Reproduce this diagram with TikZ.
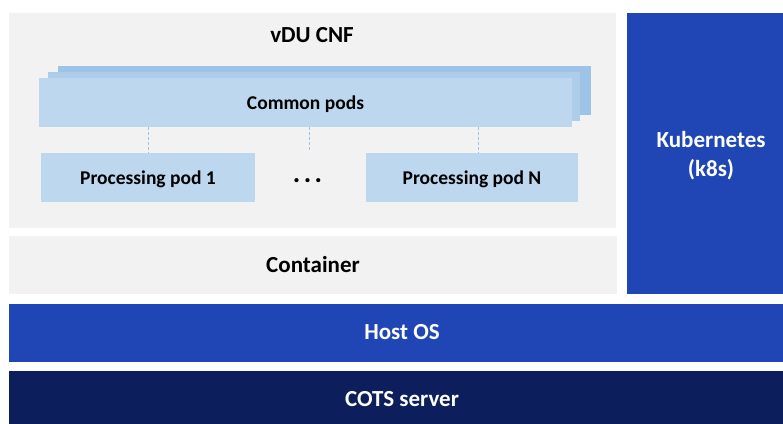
\documentclass[tikz,border=0pt]{standalone}
\usepackage{fontspec}
\setmainfont{Carlito}
\definecolor{lgray}{HTML}{F2F2F2}
\definecolor{podblue}{HTML}{BDD7EE}
\definecolor{podmid}{HTML}{AECDEA}
\definecolor{podback}{HTML}{9DC3E6}
\definecolor{kblue}{HTML}{2046B6}
\definecolor{navy}{HTML}{0C1E5B}
\begin{document}
\begin{tikzpicture}[x=1pt,y=-1pt,
  box/.style={draw=none, inner sep=0pt, outer sep=0pt, align=center},
  big/.style={font=\fontsize{23}{29}\selectfont\bfseries},
  small/.style={font=\fontsize{19.5}{24}\selectfont\bfseries, text depth=0pt},
  conn/.style={draw=podback, line width=0.8pt, dash pattern=on 3pt off 2pt}]
\useasboundingbox (0,0) rectangle (783,423);
\clip (0,0) rectangle (783,423);
\fill[white] (0,0) rectangle (783,423);
% vDU CNF area
\node[box, fill=lgray, minimum width=607, minimum height=215] (cnf) at (312.5,120.5) {};
\node[big] (cnflbl) at (312,35) {vDU CNF};
% common pods stack
\node[box, fill=podback, minimum width=533, minimum height=49] (cback) at (324.5,90.5) {};
\node[box, fill=podmid, minimum width=532, minimum height=49] (cmid) at (314,96.5) {};
\node[box, fill=podblue, minimum width=533, minimum height=49, small] (common) at (305.5,102.5) {Common pods};
% processing pods
\node[box, fill=podblue, minimum width=214, minimum height=49, small] (pod1) at (148,177.5) {Processing pod 1};
\node[box, fill=podblue, minimum width=212, minimum height=49, small] (podN) at (472,177.5) {Processing pod N};
\node[font=\fontsize{28}{30}\selectfont\bfseries, inner sep=0pt, text depth=0pt] (dots) at (307.5,181) {.\hspace{3.5pt}.\hspace{3.5pt}.};
\coordinate (dtop) at (309,151);
\draw[conn] (pod1.north |- common.south) -- (pod1.north);
\draw[conn] (dtop |- common.south) -- (dtop);
\draw[conn] ([xshift=6pt]podN.north |- common.south) -- ([xshift=6pt]podN.north);
% container
\node[box, fill=lgray, minimum width=608, minimum height=58, big] (container) at (313,265) {Container};
% kubernetes
\node[box, fill=kblue, minimum width=168, minimum height=281] (k8s) at (711,153.5) {};
\node[big, text=white, align=center] (k8slbl) at (711,156) {Kubernetes\\(k8s)};
% host OS
\node[box, fill=kblue, minimum width=786, minimum height=58, big, text=white] (host) at (402,332.5) {Host OS};
% COTS server
\node[box, fill=navy, minimum width=786, minimum height=56, big, text=white] (cots) at (402,399) {COTS server};
\end{tikzpicture}
\end{document}
